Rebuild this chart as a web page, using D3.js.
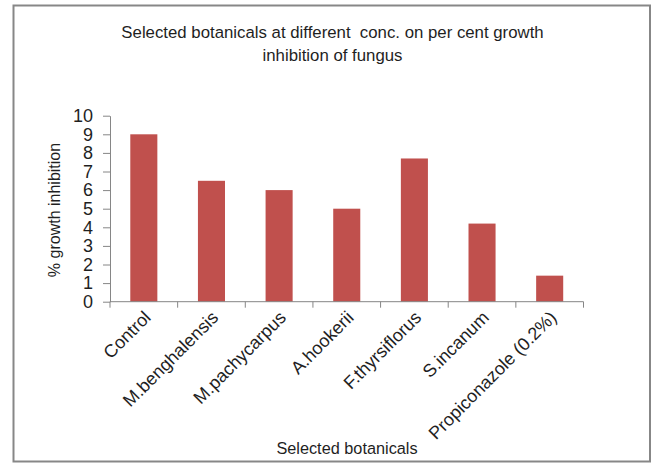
<!DOCTYPE html>
<html>
<head>
<meta charset="utf-8">
<script src="https://cdn.jsdelivr.net/npm/d3@7"></script>
<style>
  html, body { margin: 0; padding: 0; background: #fff; }
  svg { display: block; }
  text { font-family: "Liberation Sans", Arial, sans-serif; fill: #1f1f1f; white-space: pre; }
</style>
</head>
<body>
<svg id="chart" width="656" height="463"></svg>
<script>
// Per cent growth inhibition for each botanical treatment
const categories = ["Control", "M.benghalensis", "M.pachycarpus", "A.hookerii", "F.thyrsiflorus", "S.incanum", "Propiconazole (0.2%)"];
const values = [9, 6.5, 6, 5, 7.7, 4.2, 1.4];
const yTicks = [0, 1, 2, 3, 4, 5, 6, 7, 8, 9, 10];
const titleLines = ["Selected botanicals at different  conc. on per cent growth", "inhibition of fungus"];
const xTitle = "Selected botanicals";
const yTitle = "% growth inhibition";

const svg = d3.select("#chart");
const plot = { left: 110, right: 583.5, top: 115.7, bottom: 301.7 };

// Outer frame
svg.append("rect")
  .attr("x", 13.5).attr("y", 5.5)
  .attr("width", 636.5).attr("height", 456)
  .attr("fill", "#fff")
  .attr("stroke", "#878787").attr("stroke-width", 2);

const x = d3.scaleBand()
  .domain(categories)
  .range([plot.left, plot.right])
  .paddingInner(0.6)
  .paddingOuter(0.3);

const y = d3.scaleLinear()
  .domain([0, 10])
  .range([plot.bottom, plot.top]);

// Bars
svg.append("g").selectAll("rect")
  .data(categories)
  .join("rect")
  .attr("x", d => x(d))
  .attr("y", (d, i) => y(values[i]))
  .attr("width", x.bandwidth())
  .attr("height", (d, i) => y(0) - y(values[i]))
  .attr("fill", "#C0504D");

// Y axis
const yAxis = svg.append("g")
  .attr("transform", `translate(${plot.left},0)`)
  .call(d3.axisLeft(y).tickValues(yTicks).tickSize(7).tickPadding(10).tickSizeOuter(0));
yAxis.select(".domain").attr("stroke", "#868686");
yAxis.selectAll(".tick line").attr("stroke", "#868686");
yAxis.selectAll(".tick text")
  .style("font-family", "'Liberation Sans', Arial, sans-serif")
  .style("font-size", "18px")
  .attr("fill", "#1f1f1f");

// X axis: ticks sit on the band boundaries
const step = x.step();
const boundaries = d3.range(categories.length + 1).map(i => plot.left + i * step);
const xAxisG = svg.append("g");
xAxisG.append("line")
  .attr("x1", plot.left).attr("x2", plot.right)
  .attr("y1", y(0)).attr("y2", y(0))
  .attr("stroke", "#868686");
xAxisG.selectAll("line.tk")
  .data(boundaries)
  .join("line")
  .attr("class", "tk")
  .attr("x1", d => d).attr("x2", d => d)
  .attr("y1", y(0)).attr("y2", y(0) + 6)
  .attr("stroke", "#868686");

// Rotated category labels
xAxisG.selectAll("text.cat")
  .data(categories)
  .join("text")
  .attr("class", "cat")
  .attr("text-anchor", "end")
  .attr("font-size", 18)
  .attr("transform", d => {
    const cx = x(d) + x.bandwidth() / 2 + 8;
    const cy = y(0) + 17;
    return `translate(${cx},${cy}) rotate(-45)`;
  })
  .text(d => d);

// Titles
svg.append("text")
  .attr("x", 332.5).attr("y", 38)
  .attr("text-anchor", "middle")
  .attr("font-size", 16.8)
  .selectAll("tspan")
  .data(titleLines)
  .join("tspan")
  .attr("x", 332.5)
  .attr("dy", (d, i) => i === 0 ? 0 : 23)
  .text(d => d);

svg.append("text")
  .attr("x", 347).attr("y", 454)
  .attr("text-anchor", "middle")
  .attr("font-size", 16.3)
  .text(xTitle);

svg.append("text")
  .attr("transform", "translate(60,210) rotate(-90)")
  .attr("text-anchor", "middle")
  .attr("font-size", 16)
  .text(yTitle);
</script>
</body>
</html>
